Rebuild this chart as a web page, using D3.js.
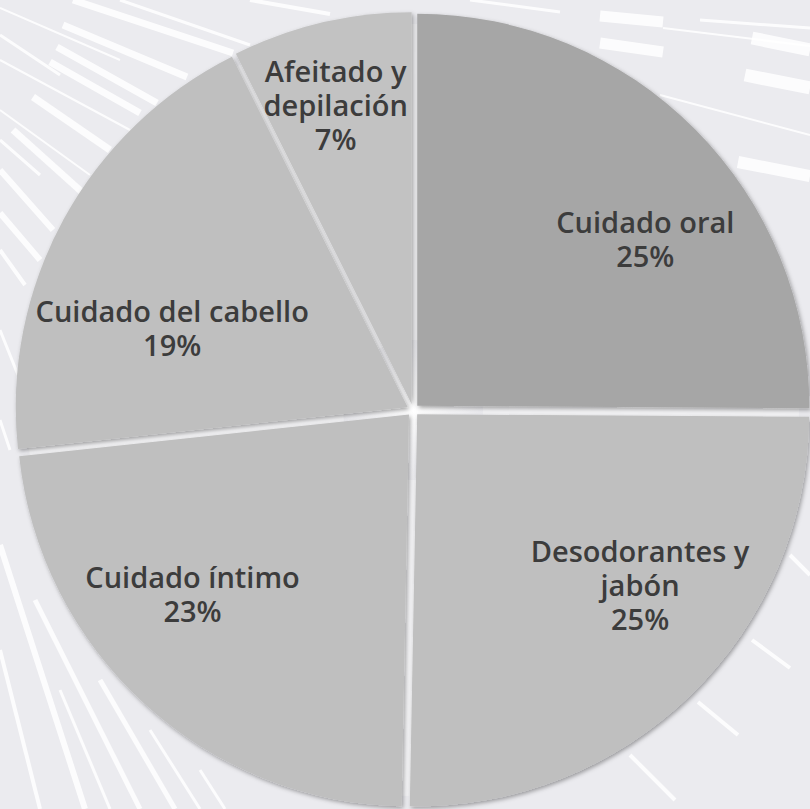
<!DOCTYPE html>
<html>
<head>
<meta charset="utf-8">
<script src="https://cdn.jsdelivr.net/npm/d3@7"></script>
<style>
  html, body { margin: 0; padding: 0; background: #ebebef; }
  svg { display: block; }
</style>
</head>
<body>
<script>
// data
var categories = ["Cuidado oral", "Desodorantes y jabón", "Cuidado íntimo", "Cuidado del cabello", "Afeitado y depilación"];
var shares = [25.1, 25.2, 23.0, 19.3, 7.4];
var shownPct = ["25%", "25%", "23%", "19%", "7%"];
var labelLines = [["Cuidado oral"], ["Desodorantes y", "jabón"], ["Cuidado íntimo"], ["Cuidado del cabello"], ["Afeitado y", "depilación"]];

var w = 810, h = 809;
var cx = 413, cy = 410, r = 392, explode = 6;
var fills = ["#a6a6a6", "#bfbfbf", "#bfbfbf", "#bfbfbf", "#c2c2c2"];
// small hand nudges so the labels sit where the original ones do
var nudge = [[28, 33], [26, -30], [-26, -28], [12, 57], [-11, -24]];

var svg = d3.select("body").append("svg").attr("width", w).attr("height", h);
var defs = svg.append("defs");

var glow = defs.append("radialGradient").attr("id", "glow");
glow.append("stop").attr("offset", "0%").attr("stop-color", "#ffffff");
glow.append("stop").attr("offset", "100%").attr("stop-color", "#ebebef");

var shadow = defs.append("filter").attr("id", "shadow")
    .attr("x", "-10%").attr("y", "-10%").attr("width", "120%").attr("height", "120%");
shadow.append("feDropShadow").attr("dx", 1.5).attr("dy", 2).attr("stdDeviation", 2)
    .attr("flood-color", "#000").attr("flood-opacity", 0.35);

// background
svg.append("rect").attr("width", w).attr("height", h).attr("fill", "#ebebef");

// decorative white streaks of the backdrop
var streaks = [
  [73, 0, 233, 53, 7], [63, 25, 187, 77, 7], [57, 47, 157, 103, 7], [50, 62, 140, 113, 7],
  [33, 97, 110, 150, 7], [13, 130, 83, 193, 7], [0, 170, 53, 230, 6], [0, 213, 40, 260, 6],
  [0, 8, 120, 60, 2], [0, 60, 130, 130, 2], [0, 110, 90, 175, 2], [120, 0, 250, 45, 3],
  [0, 35, 60, 75, 3], [0, 140, 40, 175, 3], [0, 250, 25, 285, 4],
  [250, 0, 330, 14, 4], [470, 0, 560, 12, 3],
  [600, 16, 663, 22, 11], [600, 43, 663, 52, 11], [663, 28, 810, 46, 2], [752, 38, 810, 50, 13],
  [745, 75, 810, 88, 13], [660, 95, 810, 135, 2], [738, 162, 810, 176, 12], [700, 20, 810, 28, 3],
  [790, 555, 810, 575, 4], [752, 640, 790, 668, 4], [698, 702, 738, 735, 4], [630, 755, 675, 800, 4],
  [0, 330, 20, 380, 3], [0, 420, 10, 450, 3],
  [0, 545, 85, 809, 6], [35, 600, 140, 809, 5], [100, 680, 175, 809, 5], [150, 730, 200, 809, 3],
  [0, 650, 40, 809, 4], [60, 690, 110, 809, 3], [200, 770, 225, 809, 3]
];
svg.append("g").selectAll("line").data(streaks).enter().append("line")
    .attr("x1", function(d){ return d[0]; })
    .attr("y1", function(d){ return d[1]; })
    .attr("x2", function(d){ return d[2]; })
    .attr("y2", function(d){ return d[3]; })
    .attr("stroke", "#ffffff")
    .attr("stroke-opacity", 0.85)
    .attr("stroke-width", function(d){ return d[4]; });

var pie = d3.pie().sort(null).value(function(d){ return d; });
var arcs = pie(shares);
var arc = d3.arc().innerRadius(0).outerRadius(r);
var labelArc = d3.arc().innerRadius(288).outerRadius(288);

var g = svg.append("g").attr("transform", "translate(" + cx + "," + cy + ")");

// light underlay, shows through the gaps between slices
g.append("circle").attr("r", r - 6).attr("fill", "#f2f2f4");
g.append("circle").attr("r", 70).attr("fill", "url(#glow)");

g.selectAll("path.slice").data(arcs).enter().append("path")
    .attr("class", "slice")
    .attr("d", arc)
    .attr("fill", function(d, i){ return fills[i]; })
    .attr("filter", "url(#shadow)")
    .attr("transform", function(d){
        var a = (d.startAngle + d.endAngle) / 2;
        return "translate(" + (explode * Math.sin(a)) + "," + (-explode * Math.cos(a)) + ")";
    });

var lineH = 34;
var labels = g.selectAll("text.lbl").data(arcs).enter().append("text")
    .attr("class", "lbl")
    .attr("text-anchor", "middle")
    .attr("font-family", "'Open Sans', sans-serif")
    .attr("font-weight", 600)
    .attr("font-size", 29)
    .attr("fill", "#3c3c3c")
    .attr("transform", function(d, i){
        var c = labelArc.centroid(d);
        return "translate(" + (c[0] + nudge[i][0]) + "," + (c[1] + nudge[i][1]) + ")";
    });

labels.each(function(d, i){
    var lines = labelLines[i].concat([shownPct[i]]);
    var t = d3.select(this);
    var top = -(lines.length - 1) * lineH / 2;
    lines.forEach(function(s, k){
        t.append("tspan").attr("x", 0).attr("y", top + k * lineH).attr("dy", "0.35em").text(s);
    });
});
</script>
</body>
</html>
